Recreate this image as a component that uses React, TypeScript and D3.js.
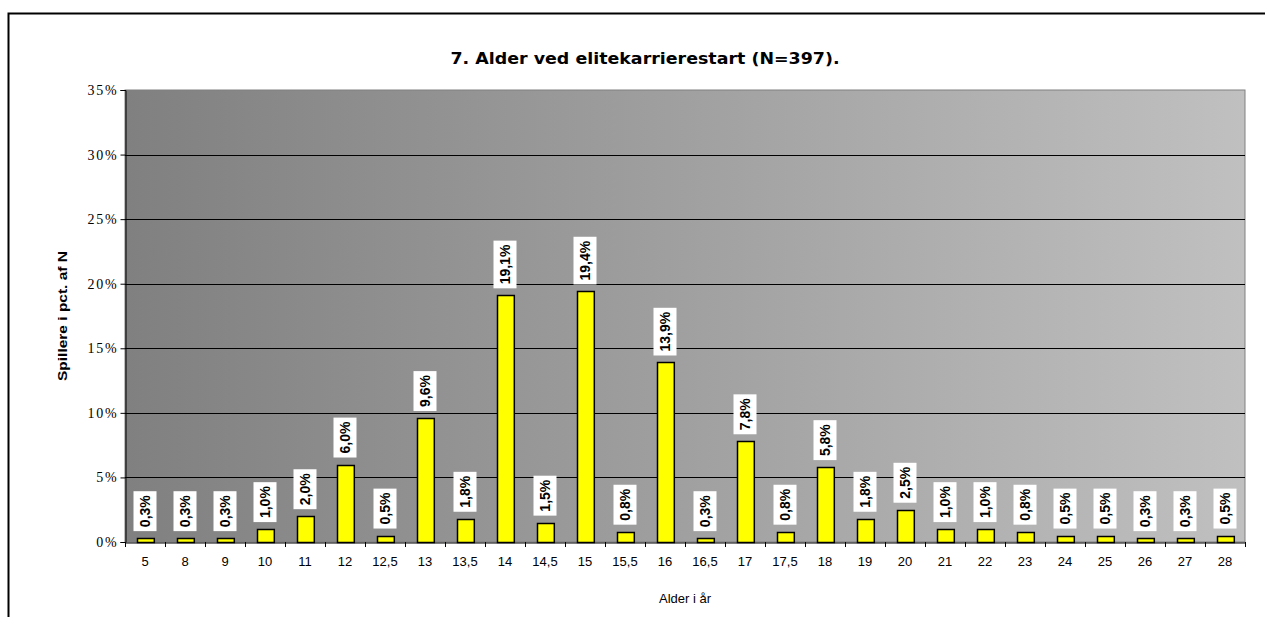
import React, { useEffect, useRef } from "react";
import * as d3 from "d3";

const categories = ["5","8","9","10","11","12","12,5","13","13,5","14","14,5","15","15,5","16","16,5","17","17,5","18","19","20","21","22","23","24","25","26","27","28"];
const values = [0.3,0.3,0.3,1.0,2.0,6.0,0.5,9.6,1.8,19.1,1.5,19.4,0.8,13.9,0.3,7.8,0.8,5.8,1.8,2.5,1.0,1.0,0.8,0.5,0.5,0.3,0.3,0.5];
const yTicks = [0,5,10,15,20,25,30,35];
const title = "7. Alder ved elitekarrierestart (N=397).";
const yTitle = "Spillere i pct. af N";
const xTitle = "Alder i år";

export default function App() {
  const ref = useRef<SVGSVGElement>(null);
  useEffect(() => {
    const svg = d3.select(ref.current);
    svg.selectAll("*").remove();
    const L = 125, R = 1245, T = 90, B = 542;
    const x = d3.scaleBand().domain(categories).range([L, R]).paddingInner(0.58).paddingOuter(0.29);
    const xb = d3.scaleBand().domain(categories).range([L, R]);
    const y = d3.scaleLinear().domain([0, 35]).range([B, T]);

    // frame
    svg.append("rect").attr("x", 8.5).attr("y", 13.5).attr("width", 1300).attr("height", 700)
      .attr("fill", "white").attr("stroke", "black").attr("stroke-width", 2);

    const defs = svg.append("defs");
    const g = defs.append("linearGradient").attr("id", "bg").attr("x1", "0").attr("x2", "1").attr("y1", "0").attr("y2", "0");
    g.append("stop").attr("offset", "0").attr("stop-color", "#808080");
    g.append("stop").attr("offset", "1").attr("stop-color", "#c0c0c0");

    svg.append("rect").attr("x", L).attr("y", T).attr("width", R - L).attr("height", B - T)
      .attr("fill", "url(#bg)").attr("stroke", "#808080").attr("stroke-width", 1);

    // gridlines
    svg.append("g").selectAll("line").data(yTicks.filter(t => t > 0 && t < 35)).join("line")
      .attr("x1", L).attr("x2", R).attr("y1", d => Math.round(y(d)) + 0.5).attr("y2", d => Math.round(y(d)) + 0.5)
      .attr("stroke", "black").attr("stroke-width", 1);

    // axes
    const ya = svg.append("g").attr("transform", `translate(${L + 0.5},0)`)
      .call(d3.axisLeft(y).tickValues(yTicks).tickSize(5).tickFormat(d => `${d}%`));
    ya.attr("font-size", null).attr("font-family", null);
    ya.select(".domain").attr("stroke", "black");
    ya.selectAll("line").attr("stroke", "black");
    ya.selectAll("text").attr("font-family", "'Liberation Serif', 'Times New Roman', serif").attr("font-size", 14)
      .attr("letter-spacing", 1.8).attr("fill", "#000").attr("x", -7);

    const xa = svg.append("g").attr("transform", `translate(0,${B + 0.5})`)
      .call(d3.axisBottom(xb).tickSize(0).tickPadding(14));
    xa.attr("font-size", null).attr("font-family", null);
    xa.select(".domain").attr("stroke", "black");
    xa.selectAll("text").attr("font-family", "'Liberation Sans', Arial, sans-serif").attr("font-size", 13).attr("fill", "#000");
    svg.append("g").selectAll("line").data(d3.range(categories.length + 1)).join("line")
      .attr("x1", i => Math.round(L + i * xb.step()) + 0.5).attr("x2", i => Math.round(L + i * xb.step()) + 0.5)
      .attr("y1", B).attr("y2", B + 5).attr("stroke", "black");

    // bars
    svg.append("g").selectAll("rect").data(values).join("rect")
      .attr("x", (d, i) => Math.round(x(categories[i])!) + 0.5)
      .attr("y", d => Math.round(y(d)) + 0.5)
      .attr("width", x.bandwidth())
      .attr("height", d => B - Math.round(y(d)))
      .attr("fill", "#ffff00").attr("stroke", "black").attr("stroke-width", 1.5);

    // labels
    const lg = svg.append("g");
    values.forEach((v, i) => {
      const cx = xb(categories[i])! + xb.bandwidth() / 2;
      const top = y(v);
      const gg = lg.append("g");
      const t = gg.append("text").text(v.toFixed(1).replace(".", ",") + "%")
        .attr("font-family", "'Liberation Sans', Arial, sans-serif").attr("font-size", 14).attr("font-weight", "bold")
        .attr("fill", "#000");
      const w = (t.node() as SVGTextElement).getComputedTextLength();
      const boxH = w + 8;
      const bottom = top - 7;
      gg.insert("rect", "text").attr("x", cx - 11.5).attr("y", bottom - boxH).attr("width", 23).attr("height", boxH).attr("fill", "white");
      t.attr("transform", `translate(${cx + 5},${bottom - 4}) rotate(-90)`);
    });

    // titles
    svg.append("text").attr("x", 645).attr("y", 64).attr("text-anchor", "middle")
      .attr("font-family", "'DejaVu Sans', sans-serif").attr("font-weight", "bold").attr("font-size", 16)
      .attr("textLength", 389).attr("lengthAdjust", "spacingAndGlyphs").text(title);
    svg.append("text").attr("transform", `translate(67,${(T + B) / 2}) rotate(-90)`).attr("text-anchor", "middle")
      .attr("font-family", "'Liberation Sans', Arial, sans-serif").attr("font-weight", "bold").attr("font-size", 13)
      .attr("textLength", 130).attr("lengthAdjust", "spacingAndGlyphs").text(yTitle);
    svg.append("text").attr("x", (L + R) / 2).attr("y", 603).attr("text-anchor", "middle")
      .attr("font-family", "'Liberation Sans', Arial, sans-serif").attr("font-size", 13).text(xTitle);
  }, []);
  return <svg ref={ref} width={1265} height={617} style={{ position: "absolute", left: 0, top: 0 }} />;
}
